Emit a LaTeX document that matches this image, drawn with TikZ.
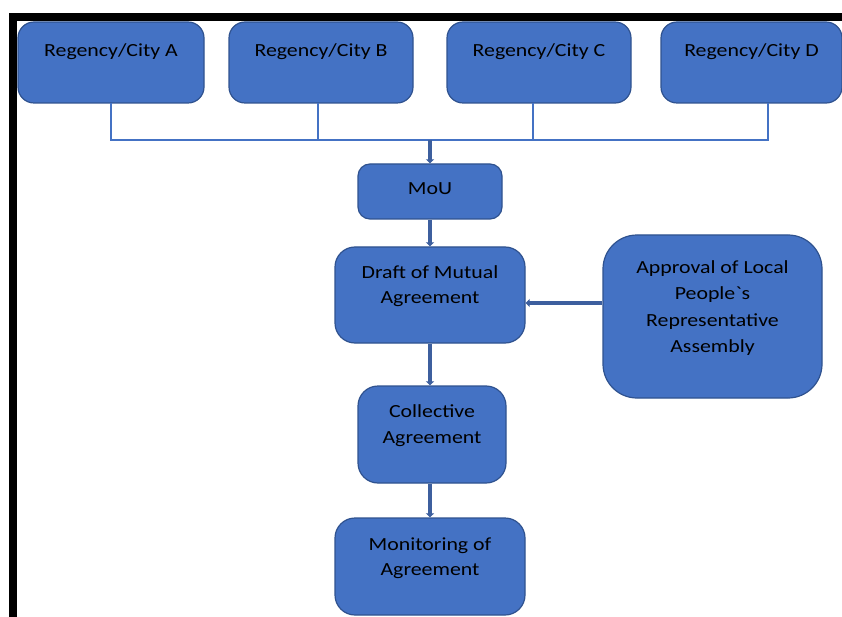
\documentclass[tikz,border=0pt]{standalone}
\usepackage{fontspec}
\newfontfamily\boxfont[FakeStretch=1.18]{Carlito}
\usetikzlibrary{arrows.meta}
\definecolor{boxfill}{HTML}{4472C4}
\definecolor{boxedge}{HTML}{2F528F}
\definecolor{arrowcol}{HTML}{3D5F9E}
\tikzset{
  box/.style={draw=boxedge, line width=1.2pt, fill=boxfill, inner sep=0pt},
  txt/.style={font=\boxfont\fontsize{18.5}{25}\selectfont, text=black, anchor=base, inner sep=0pt},
  link/.style={draw=boxfill, line width=1.6pt},
  flow/.style={draw=arrowcol, line width=3.6pt, -{Triangle[width=8pt,length=4pt]}},
}
\begin{document}
\begin{tikzpicture}[x=1pt,y=-1pt]
\useasboundingbox (0,0) rectangle (842,617);
% black frame
\fill[black] (9,13) rectangle (842,21);
\fill[black] (9,13) rectangle (17,617);
% top boxes
\path[box, rounded corners=16pt] (18,22) rectangle (204,103);
\node[inner sep=0pt, minimum width=186pt, minimum height=81pt] (a) at (111,62.5) {};
\path[box, rounded corners=16pt] (229,22) rectangle (413,103);
\node[inner sep=0pt, minimum width=184pt, minimum height=81pt] (b) at (321,62.5) {};
\path[box, rounded corners=16pt] (447,22) rectangle (631,103);
\node[inner sep=0pt, minimum width=184pt, minimum height=81pt] (c) at (539,62.5) {};
\path[box, rounded corners=16pt] (661,22) rectangle (842,103);
\node[inner sep=0pt, minimum width=181pt, minimum height=81pt] (d) at (751.5,62.5) {};
\node[txt] (ta) at (111,57) {Regency/City A};
\node[txt] (tb) at (321,57) {Regency/City B};
\node[txt] (tc) at (539,57) {Regency/City C};
\node[txt] (td) at (751.5,57) {Regency/City D};
% middle nodes
\node[box, rounded corners=12pt, minimum width=144pt, minimum height=55pt] (mou) at (430,191.5) {};
\node[txt] (tmou) at (430,195) {MoU};
\node[box, rounded corners=20pt, minimum width=190pt, minimum height=96pt] (draft) at (430,295) {};
\node[txt, align=center, anchor=north] (tdraft) at (430,265) {Draft of Mutual\\Agreement};
\node[box, rounded corners=34pt, minimum width=219pt, minimum height=163pt] (appr) at (712.5,316.5) {};
\node[txt, align=center, anchor=north, font=\boxfont\fontsize{18.5}{26.5}\selectfont] (tappr) at (712.5,260) {Approval of Local\\People`s\\Representative\\Assembly};
\node[box, rounded corners=20pt, minimum width=148pt, minimum height=97pt] (coll) at (432,434.5) {};
\node[txt, align=center, anchor=north, font=\boxfont\fontsize{18.5}{26}\selectfont] (tcoll) at (432,404.5) {Collective\\Agreement};
\node[box, rounded corners=20pt, minimum width=190pt, minimum height=97pt] (mon) at (430,566.5) {};
\node[txt, align=center, anchor=north] (tmon) at (430,537.5) {Monitoring of\\Agreement};
% connectors
\coordinate (j) at (430,140);
\draw[link] (a.south) |- (j);
\draw[link] ([xshift=-3pt]b.south) |- (j);
\draw[link] ([xshift=-6pt]c.south) |- (j);
\draw[link] ([xshift=16.5pt]d.south) |- (j);
\draw[flow] (j) -- (mou.north);
\draw[flow] (mou.south) -- (draft.north);
\draw[flow] (draft.south) -- (draft.south |- coll.north);
\draw[flow] (coll.south -| draft.south) -- (draft.south |- mon.north);
\draw[flow] (appr.west |- 0,303) -- (draft.east |- 0,303);
\end{tikzpicture}
\end{document}
